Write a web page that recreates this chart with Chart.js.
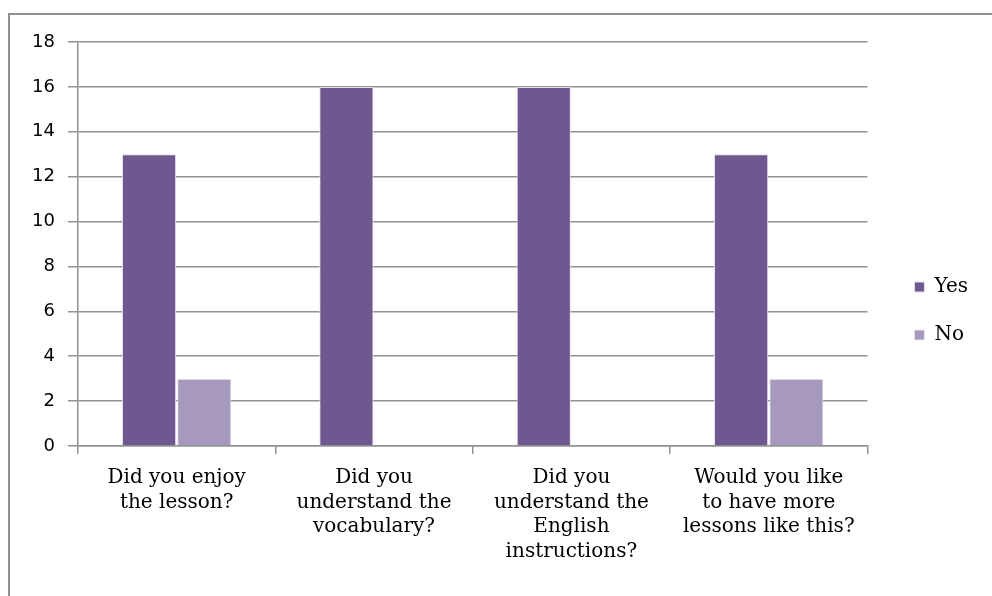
<!DOCTYPE html>
<html>
<head>
<meta charset="utf-8">
<script src="https://cdn.jsdelivr.net/npm/chart.js@4"></script>
<style>
  html, body { margin: 0; padding: 0; background: #fff; }
  #wrap { position: relative; width: 992px; height: 596px; overflow: hidden; }
  #frame { position: absolute; left: 8px; top: 13px; width: 1200px; height: 800px;
           border-left: 2px solid #8f8f8f; border-top: 2px solid #8f8f8f; }
  #c { position: absolute; left: 0; top: 0; }
</style>
</head>
<body>
<div id="wrap">
  <div id="frame"></div>
  <canvas id="c" width="992" height="596"></canvas>
</div>
<script>
// Survey questions (one entry per group of bars), split into label lines
const questions = [
  ['Did you enjoy', 'the lesson?'],
  ['Did you', 'understand the', 'vocabulary?'],
  ['Did you', 'understand the', 'English', 'instructions?'],
  ['Would you like', 'to have more', 'lessons like this?']
];
const yesCounts = [13, 16, 16, 13];
const noCounts = [3, 0, 0, 3];
const yTicks = [0, 2, 4, 6, 8, 10, 12, 14, 16, 18];

const gridGray = '#929292';
const serif = "'DejaVu Serif', 'Liberation Serif', serif";

new Chart(document.getElementById('c'), {
  type: 'bar',
  data: {
    labels: questions,
    datasets: [
      { label: 'Yes', data: yesCounts, backgroundColor: '#6f578f',
        categoryPercentage: 0.56, barPercentage: 0.98,
        borderWidth: 1, borderColor: '#e4e0ea', borderSkipped: 'bottom' },
      { label: 'No', data: noCounts, backgroundColor: '#a798bd',
        categoryPercentage: 0.56, barPercentage: 0.98,
        borderWidth: 1, borderColor: '#ebe8ef', borderSkipped: 'bottom' }
    ]
  },
  options: {
    responsive: false,
    animation: false,
    layout: { padding: { top: 42, left: 0, right: 14, bottom: 16 } },
    plugins: {
      legend: {
        position: 'right',
        labels: {
          boxWidth: 10, boxHeight: 10, padding: 28,
          color: '#000', font: { family: serif, size: 20 }
        }
      },
      tooltip: { enabled: false }
    },
    scales: {
      x: {
        offset: true,
        grid: { display: true, drawOnChartArea: false, offset: true,
                tickLength: 8, color: gridGray, lineWidth: 1.5 },
        border: { color: gridGray, width: 1.5 },
        ticks: { color: '#000', padding: 12, maxRotation: 0, autoSkip: false,
                 font: { family: serif, size: 20, lineHeight: 1.22 } },
        afterFit: s => { s.height = 134; }
      },
      y: {
        min: 0, max: 18,
        afterBuildTicks: s => { s.ticks = yTicks.map(v => ({ value: v })); },
        grid: { color: gridGray, lineWidth: 1.5, tickLength: 10 },
        border: { color: gridGray, width: 1.5 },
        ticks: { color: '#000', padding: 13,
                 font: { family: "'DejaVu Sans', sans-serif", size: 18 } },
        afterFit: s => { s.width = 78; }
      },
      // empty spacer between the plot and the legend
      gap: {
        position: 'right', display: true,
        grid: { display: false }, border: { display: false },
        ticks: { display: false },
        afterFit: s => { s.width = 19; }
      }
    }
  }
});
</script>
</body>
</html>
